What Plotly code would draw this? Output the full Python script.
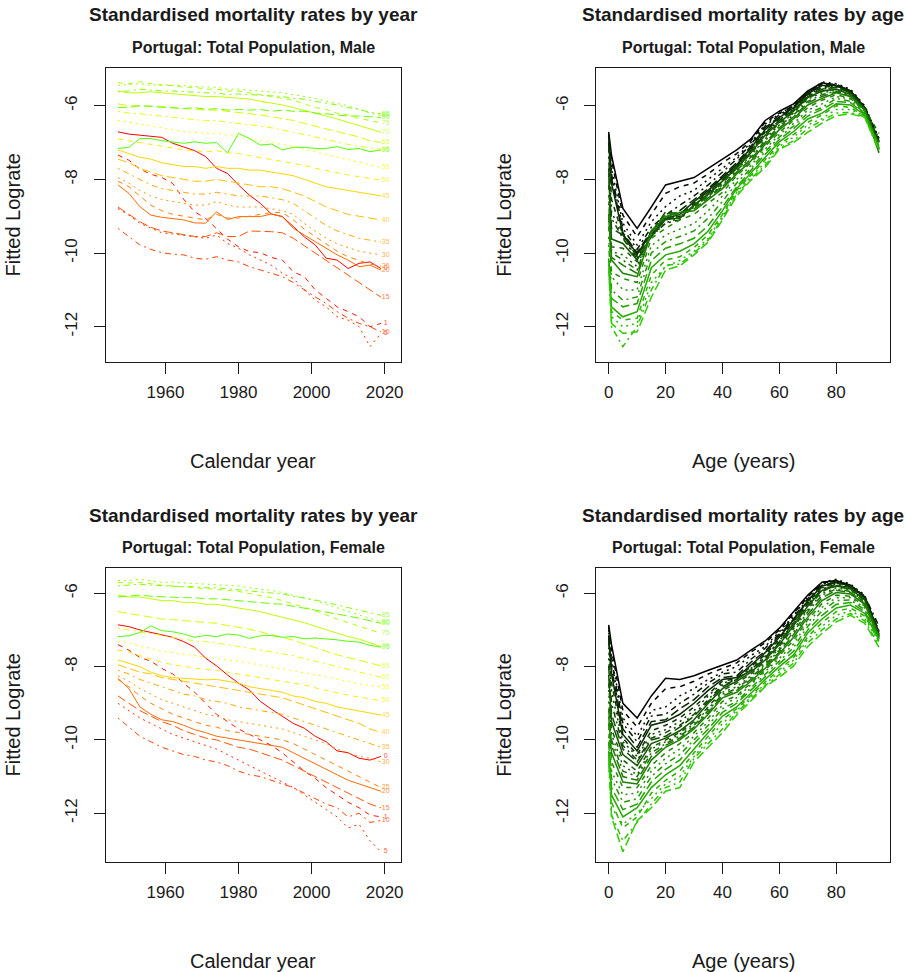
import colorsys
import plotly.graph_objects as go

# ---------------------------------------------------------------------------
# Fitted log mortality rates, Portugal, total population
# rows: ages, columns: calendar years
# ---------------------------------------------------------------------------
years = [1947, 1950, 1953, 1956, 1959, 1962, 1965, 1968, 1971, 1974, 1977, 1980,
         1983, 1986, 1989, 1992, 1995, 1998, 2001, 2004, 2007, 2010, 2013, 2016, 2019]
ages = [0, 1, 5, 10, 15, 20, 25, 30, 35, 40, 45, 50, 55, 60, 65, 70, 75, 80, 85, 90, 95]

# Male
m00 = [-6.71, -6.77, -6.80, -6.82, -6.86, -7.02, -7.13, -7.22, -7.38, -7.70, -7.84, -8.15, -8.43, -8.65, -8.94, -9.01, -9.28, -9.56, -9.78, -10.14, -10.19, -10.42, -10.28, -10.24, -10.42]
m01 = [-7.34, -7.48, -7.72, -7.86, -7.95, -8.11, -8.54, -8.88, -9.06, -9.33, -9.62, -9.83, -9.96, -9.99, -10.12, -10.19, -10.51, -10.64, -11.00, -11.23, -11.46, -11.59, -11.73, -12.00, -11.91]
m05 = [-8.79, -8.97, -9.19, -9.33, -9.45, -9.48, -9.51, -9.56, -9.60, -9.51, -9.74, -9.87, -10.05, -10.19, -10.33, -10.55, -10.69, -11.00, -11.28, -11.46, -11.73, -11.82, -12.00, -12.54, -12.18]
m10 = [-9.33, -9.56, -9.78, -9.90, -9.99, -10.03, -10.05, -10.14, -10.17, -10.10, -10.19, -10.24, -10.37, -10.46, -10.55, -10.64, -10.80, -11.00, -11.19, -11.37, -11.59, -11.77, -11.91, -12.00, -12.14]
m15 = [-8.75, -8.95, -9.15, -9.30, -9.40, -9.45, -9.50, -9.55, -9.55, -9.45, -9.55, -9.55, -9.40, -9.40, -9.42, -9.45, -9.60, -9.80, -10.00, -10.20, -10.40, -10.60, -10.80, -11.00, -11.20]
m20 = [-8.15, -8.38, -8.74, -8.97, -9.03, -9.06, -9.10, -9.18, -9.19, -8.88, -9.09, -9.01, -9.00, -9.01, -8.94, -9.01, -9.33, -9.51, -9.69, -9.87, -10.05, -10.19, -10.37, -10.33, -10.46]
m25 = [-8.05, -8.20, -8.45, -8.70, -8.85, -8.95, -9.00, -9.05, -9.10, -8.95, -9.05, -9.05, -9.00, -8.95, -8.90, -8.90, -9.10, -9.35, -9.55, -9.75, -9.95, -10.10, -10.20, -10.30, -10.35]
m30 = [-7.95, -8.10, -8.30, -8.45, -8.55, -8.60, -8.65, -8.70, -8.70, -8.60, -8.70, -8.75, -8.75, -8.75, -8.80, -8.85, -8.95, -9.20, -9.40, -9.60, -9.75, -9.85, -9.95, -10.00, -10.05]
m35 = [-7.70, -7.85, -8.00, -8.15, -8.25, -8.30, -8.35, -8.40, -8.40, -8.35, -8.40, -8.45, -8.45, -8.45, -8.50, -8.55, -8.65, -8.85, -9.05, -9.25, -9.40, -9.50, -9.60, -9.65, -9.70]
m40 = [-7.45, -7.55, -7.70, -7.80, -7.90, -7.95, -8.00, -8.05, -8.05, -8.00, -8.05, -8.10, -8.15, -8.20, -8.20, -8.25, -8.35, -8.45, -8.60, -8.75, -8.85, -8.95, -9.00, -9.05, -9.10]
m45 = [-7.20, -7.30, -7.40, -7.45, -7.55, -7.60, -7.65, -7.65, -7.70, -7.65, -7.70, -7.70, -7.75, -7.75, -7.80, -7.85, -7.90, -8.00, -8.10, -8.20, -8.25, -8.30, -8.35, -8.40, -8.45]
m50 = [-6.90, -6.95, -7.00, -7.05, -7.10, -7.15, -7.20, -7.22, -7.25, -7.22, -7.28, -7.30, -7.35, -7.40, -7.45, -7.50, -7.55, -7.62, -7.70, -7.75, -7.82, -7.88, -7.92, -7.98, -8.02]
m55 = [-6.40, -6.45, -6.50, -6.55, -6.60, -6.65, -6.70, -6.72, -6.75, -6.75, -6.80, -6.85, -6.90, -6.95, -7.00, -7.05, -7.10, -7.18, -7.25, -7.32, -7.40, -7.48, -7.55, -7.62, -7.68]
m60 = [-6.15, -6.20, -6.22, -6.25, -6.30, -6.32, -6.35, -6.38, -6.40, -6.40, -6.45, -6.48, -6.52, -6.55, -6.60, -6.65, -6.72, -6.78, -6.85, -6.92, -6.98, -7.05, -7.10, -7.15, -7.18]
m65 = [-5.95, -6.00, -6.00, -6.00, -6.02, -6.05, -6.08, -6.10, -6.12, -6.12, -6.15, -6.18, -6.20, -6.25, -6.30, -6.35, -6.40, -6.48, -6.55, -6.62, -6.70, -6.78, -6.85, -6.95, -7.00]
m70 = [-5.60, -5.65, -5.65, -5.62, -5.65, -5.68, -5.70, -5.72, -5.75, -5.75, -5.78, -5.80, -5.82, -5.88, -5.92, -5.98, -6.05, -6.12, -6.20, -6.28, -6.36, -6.45, -6.52, -6.62, -6.72]
m75 = [-5.38, -5.40, -5.35, -5.40, -5.45, -5.45, -5.50, -5.50, -5.55, -5.55, -5.60, -5.60, -5.65, -5.70, -5.75, -5.80, -5.85, -5.95, -6.05, -6.10, -6.20, -6.25, -6.35, -6.40, -6.47]
m80 = [-5.45, -5.42, -5.40, -5.45, -5.42, -5.45, -5.45, -5.48, -5.50, -5.50, -5.55, -5.55, -5.58, -5.60, -5.62, -5.65, -5.70, -5.75, -5.80, -5.88, -5.95, -6.00, -6.10, -6.20, -6.27]
m85 = [-5.62, -5.60, -5.55, -5.58, -5.60, -5.60, -5.62, -5.62, -5.65, -5.65, -5.70, -5.68, -5.70, -5.72, -5.75, -5.75, -5.80, -5.82, -5.88, -5.92, -5.98, -6.05, -6.10, -6.18, -6.22]
m90 = [-6.05, -6.05, -6.00, -6.02, -6.05, -6.05, -6.08, -6.05, -6.10, -6.08, -6.12, -6.10, -6.12, -6.10, -6.15, -6.12, -6.15, -6.15, -6.20, -6.22, -6.25, -6.28, -6.28, -6.30, -6.32]
m95 = [-7.16, -7.13, -6.89, -6.89, -6.95, -6.98, -7.02, -6.98, -7.02, -7.00, -7.28, -6.75, -6.89, -7.07, -7.04, -7.20, -7.13, -7.13, -7.16, -7.16, -7.11, -7.19, -7.16, -7.25, -7.20]

# Female
f00 = [-6.86, -6.91, -7.00, -7.07, -7.14, -7.20, -7.32, -7.47, -7.77, -7.98, -8.23, -8.45, -8.64, -8.95, -9.16, -9.36, -9.55, -9.68, -9.90, -10.05, -10.30, -10.35, -10.50, -10.55, -10.45]
f01 = [-7.40, -7.55, -7.75, -7.85, -8.05, -8.20, -8.45, -8.70, -9.00, -9.30, -9.50, -9.70, -9.85, -10.00, -10.15, -10.35, -10.60, -10.85, -11.05, -11.30, -11.50, -11.70, -11.85, -12.05, -12.10]
f05 = [-9.00, -9.20, -9.40, -9.55, -9.70, -9.85, -9.95, -10.05, -10.15, -10.25, -10.40, -10.55, -10.70, -10.85, -11.00, -11.15, -11.30, -11.50, -11.70, -11.90, -12.10, -12.40, -12.30, -12.75, -13.05]
f10 = [-9.40, -9.65, -9.90, -10.05, -10.20, -10.30, -10.40, -10.45, -10.55, -10.60, -10.70, -10.85, -10.95, -11.00, -11.10, -11.20, -11.30, -11.45, -11.60, -11.75, -11.85, -12.10, -12.00, -12.25, -12.20]
f15 = [-8.80, -9.00, -9.20, -9.35, -9.50, -9.60, -9.75, -9.85, -9.95, -10.00, -10.10, -10.20, -10.25, -10.35, -10.45, -10.55, -10.70, -10.85, -11.00, -11.15, -11.30, -11.45, -11.60, -11.75, -11.85]
f20 = [-8.32, -8.60, -9.10, -9.30, -9.45, -9.50, -9.60, -9.72, -9.80, -9.90, -9.95, -10.00, -10.05, -10.10, -10.15, -10.20, -10.35, -10.50, -10.65, -10.80, -10.95, -11.10, -11.20, -11.30, -11.40]
f25 = [-8.35, -8.55, -8.80, -9.00, -9.15, -9.30, -9.40, -9.50, -9.60, -9.65, -9.75, -9.80, -9.85, -9.90, -9.95, -10.00, -10.10, -10.25, -10.40, -10.55, -10.70, -10.85, -11.00, -11.15, -11.30]
f30 = [-8.25, -8.40, -8.60, -8.75, -8.90, -9.00, -9.10, -9.20, -9.30, -9.35, -9.45, -9.50, -9.55, -9.60, -9.65, -9.70, -9.80, -9.90, -10.00, -10.10, -10.25, -10.35, -10.45, -10.50, -10.60]
f35 = [-8.10, -8.20, -8.35, -8.45, -8.55, -8.65, -8.75, -8.80, -8.90, -8.95, -9.00, -9.10, -9.15, -9.20, -9.25, -9.30, -9.40, -9.50, -9.60, -9.70, -9.80, -9.90, -10.00, -10.10, -10.20]
f40 = [-7.95, -8.05, -8.15, -8.20, -8.30, -8.35, -8.40, -8.45, -8.50, -8.55, -8.60, -8.65, -8.70, -8.75, -8.80, -8.85, -8.95, -9.05, -9.15, -9.25, -9.35, -9.45, -9.55, -9.70, -9.80]
f45 = [-7.82, -7.90, -8.00, -8.15, -8.25, -8.30, -8.32, -8.35, -8.36, -8.35, -8.40, -8.45, -8.55, -8.60, -8.65, -8.70, -8.80, -8.85, -8.95, -9.00, -9.10, -9.15, -9.20, -9.25, -9.32]
f50 = [-7.55, -7.60, -7.70, -7.80, -7.88, -7.95, -8.00, -8.05, -8.08, -8.10, -8.15, -8.20, -8.25, -8.30, -8.35, -8.40, -8.45, -8.50, -8.58, -8.65, -8.72, -8.78, -8.83, -8.88, -8.93]
f55 = [-7.30, -7.35, -7.45, -7.50, -7.58, -7.62, -7.68, -7.72, -7.75, -7.78, -7.82, -7.85, -7.90, -7.95, -8.00, -8.05, -8.10, -8.15, -8.22, -8.28, -8.35, -8.42, -8.47, -8.52, -8.55]
f60 = [-6.95, -7.00, -7.05, -7.10, -7.15, -7.20, -7.25, -7.30, -7.32, -7.35, -7.40, -7.45, -7.50, -7.55, -7.60, -7.65, -7.70, -7.78, -7.85, -7.92, -8.00, -8.08, -8.15, -8.22, -8.29]
f65 = [-6.50, -6.55, -6.60, -6.65, -6.70, -6.72, -6.75, -6.78, -6.80, -6.82, -6.88, -6.92, -6.98, -7.05, -7.12, -7.20, -7.28, -7.38, -7.48, -7.58, -7.68, -7.75, -7.82, -7.90, -7.98]
f70 = [-6.05, -6.10, -6.10, -6.15, -6.20, -6.20, -6.25, -6.25, -6.30, -6.30, -6.35, -6.40, -6.45, -6.50, -6.58, -6.65, -6.72, -6.80, -6.90, -7.00, -7.08, -7.18, -7.25, -7.35, -7.45]
f75 = [-5.70, -5.72, -5.70, -5.75, -5.78, -5.80, -5.82, -5.85, -5.88, -5.90, -5.92, -5.95, -6.00, -6.05, -6.12, -6.20, -6.28, -6.38, -6.48, -6.60, -6.70, -6.80, -6.90, -7.00, -7.09]
f80 = [-5.65, -5.65, -5.62, -5.65, -5.70, -5.70, -5.72, -5.72, -5.75, -5.78, -5.80, -5.80, -5.85, -5.88, -5.92, -5.98, -6.05, -6.12, -6.20, -6.30, -6.40, -6.50, -6.60, -6.70, -6.78]
f85 = [-5.80, -5.78, -5.75, -5.78, -5.80, -5.80, -5.82, -5.82, -5.85, -5.85, -5.88, -5.90, -5.92, -5.95, -5.98, -6.02, -6.08, -6.12, -6.18, -6.25, -6.32, -6.40, -6.48, -6.55, -6.60]
f90 = [-6.10, -6.08, -6.05, -6.08, -6.10, -6.10, -6.12, -6.12, -6.15, -6.15, -6.18, -6.20, -6.22, -6.25, -6.28, -6.30, -6.35, -6.40, -6.45, -6.50, -6.55, -6.62, -6.68, -6.75, -6.82]
f95 = [-7.18, -7.16, -7.07, -6.89, -7.02, -7.05, -7.11, -7.20, -7.15, -7.18, -7.11, -7.14, -7.23, -7.16, -7.15, -7.20, -7.18, -7.24, -7.22, -7.24, -7.27, -7.31, -7.33, -7.42, -7.47]

male_rows = [m00, m01, m05, m10, m15, m20, m25, m30, m35, m40, m45,
             m50, m55, m60, m65, m70, m75, m80, m85, m90, m95]
female_rows = [f00, f01, f05, f10, f15, f20, f25, f30, f35, f40, f45,
               f50, f55, f60, f65, f70, f75, f80, f85, f90, f95]

year_ticks = [1960, 1980, 2000, 2020]
age_ticks = [0, 20, 40, 60, 80]
rate_ticks = [-12, -10, -8, -6]

# ---------------------------------------------------------------------------
# styling
# ---------------------------------------------------------------------------
W, H = 906, 972
FONT = "Liberation Sans, Arial, sans-serif"
INK = "#1a1a1a"

# base-R style line types, cycled 1:5
DASHES = ["solid", "5px,5px", "2px,4px", "2px,4px,6px,4px", "9px,4px"]


def age_colour(i, n):
    h = (i / (n - 1)) * 100.0 / 360.0
    r, g, b = colorsys.hsv_to_rgb(h, 1.0, 1.0)
    return f"rgb({int(r * 255)},{int(g * 255)},{int(b * 255)})"


def year_colour(j, n):
    t = j / (n - 1)
    return f"rgb({int(45 * t)},{int(205 * t)},0)"


# panel boxes in pixels: (left, right, top, bottom)
BOX = {
    1: (106.5, 402.0, 68.0, 362.0),
    2: (598.3, 893.0, 68.0, 362.0),
    3: (106.5, 402.0, 568.0, 862.0),
    4: (598.3, 893.0, 568.0, 862.0),
}
XR = {1: [1943.77, 2024.39], 2: [-4.34, 98.9], 3: [1943.77, 2024.39], 4: [-4.34, 98.9]}
YR = {1: [-12.958, -4.976], 2: [-12.958, -4.976], 3: [-13.33, -5.31], 4: [-13.33, -5.31]}

fig = go.Figure()


def ax_names(k):
    return ("x" if k == 1 else f"x{k}"), ("y" if k == 1 else f"y{k}")


def by_year_panel(k, rows):
    xa, ya = ax_names(k)
    n = len(rows)
    for i, row in enumerate(rows):
        fig.add_trace(go.Scatter(
            x=years, y=row, mode="lines", xaxis=xa, yaxis=ya,
            line=dict(color=age_colour(i, n), width=1, dash=DASHES[i % 5]),
            showlegend=False, hoverinfo="skip"))
    fig.add_trace(go.Scatter(
        x=[years[-1] + 1.3] * n, y=[r[-1] for r in rows],
        text=[str(a) for a in ages], mode="text", xaxis=xa, yaxis=ya,
        textposition="middle center",
        textfont=dict(size=7, family=FONT, color=[age_colour(i, n) for i in range(n)]),
        opacity=0.75, showlegend=False, hoverinfo="skip"))


def by_age_panel(k, rows):
    xa, ya = ax_names(k)
    n = len(years)
    for j in range(n):
        fig.add_trace(go.Scatter(
            x=ages, y=[r[j] for r in rows], mode="lines", xaxis=xa, yaxis=ya,
            line=dict(color=year_colour(j, n), width=1.5, dash=DASHES[j % 5]),
            showlegend=False, hoverinfo="skip"))


by_year_panel(1, male_rows)
by_age_panel(2, male_rows)
by_year_panel(3, female_rows)
by_age_panel(4, female_rows)

layout = dict(
    width=W, height=H, margin=dict(l=0, r=0, t=0, b=0),
    paper_bgcolor="white", plot_bgcolor="white",
    font=dict(family=FONT, color=INK),
)

for k, (l, r, t, b) in BOX.items():
    xkey = "xaxis" if k == 1 else f"xaxis{k}"
    ykey = "yaxis" if k == 1 else f"yaxis{k}"
    xa, ya = ax_names(k)
    xt = year_ticks if k in (1, 3) else age_ticks
    layout[xkey] = dict(
        domain=[l / W, r / W], range=XR[k], anchor=ya,
        tickvals=xt, ticktext=[str(v) for v in xt],
        showline=True, mirror=True, linecolor=INK, linewidth=1,
        ticks="outside", ticklen=11, tickcolor=INK, tickwidth=1,
        tickfont=dict(size=17, family=FONT, color=INK), ticklabelstandoff=4,
        showgrid=False, zeroline=False, fixedrange=True)
    layout[ykey] = dict(
        domain=[1 - b / H, 1 - t / H], range=YR[k], anchor=xa,
        tickvals=rate_ticks, ticktext=[str(v) for v in rate_ticks],
        tickangle=-90,
        showline=True, mirror=True, linecolor=INK, linewidth=1,
        ticks="outside", ticklen=11, tickcolor=INK, tickwidth=1,
        tickfont=dict(size=17, family=FONT, color=INK), ticklabelstandoff=10,
        showgrid=False, zeroline=False, fixedrange=True)

fig.update_layout(**layout)

# titles and axis labels
ann = []


def text_at(px, py, s, size, bold=False, angle=0):
    ann.append(dict(
        x=px / W, y=1 - py / H, xref="paper", yref="paper",
        text=f"<b>{s}</b>" if bold else s, showarrow=False,
        xanchor="center", yanchor="middle", textangle=angle,
        font=dict(size=size, family=FONT, color=INK)))


for k, (l, r, t, b) in BOX.items():
    cx = (l + r) / 2
    cy = (t + b) / 2
    by_year = k in (1, 3)
    sex = "Male" if k in (1, 2) else "Female"
    main = "Standardised mortality rates by year" if by_year else "Standardised mortality rates by age"
    text_at(cx, t - 53, main, 19, bold=True)
    text_at(cx, t - 21, f"Portugal: Total Population, {sex}", 16, bold=True)
    text_at(cx, b + 99, "Calendar year" if by_year else "Age (years)", 20)
    text_at(l - 93, cy, "Fitted Lograte", 20, angle=-90)

fig.update_layout(annotations=ann)
fig.write_html("out.html")
